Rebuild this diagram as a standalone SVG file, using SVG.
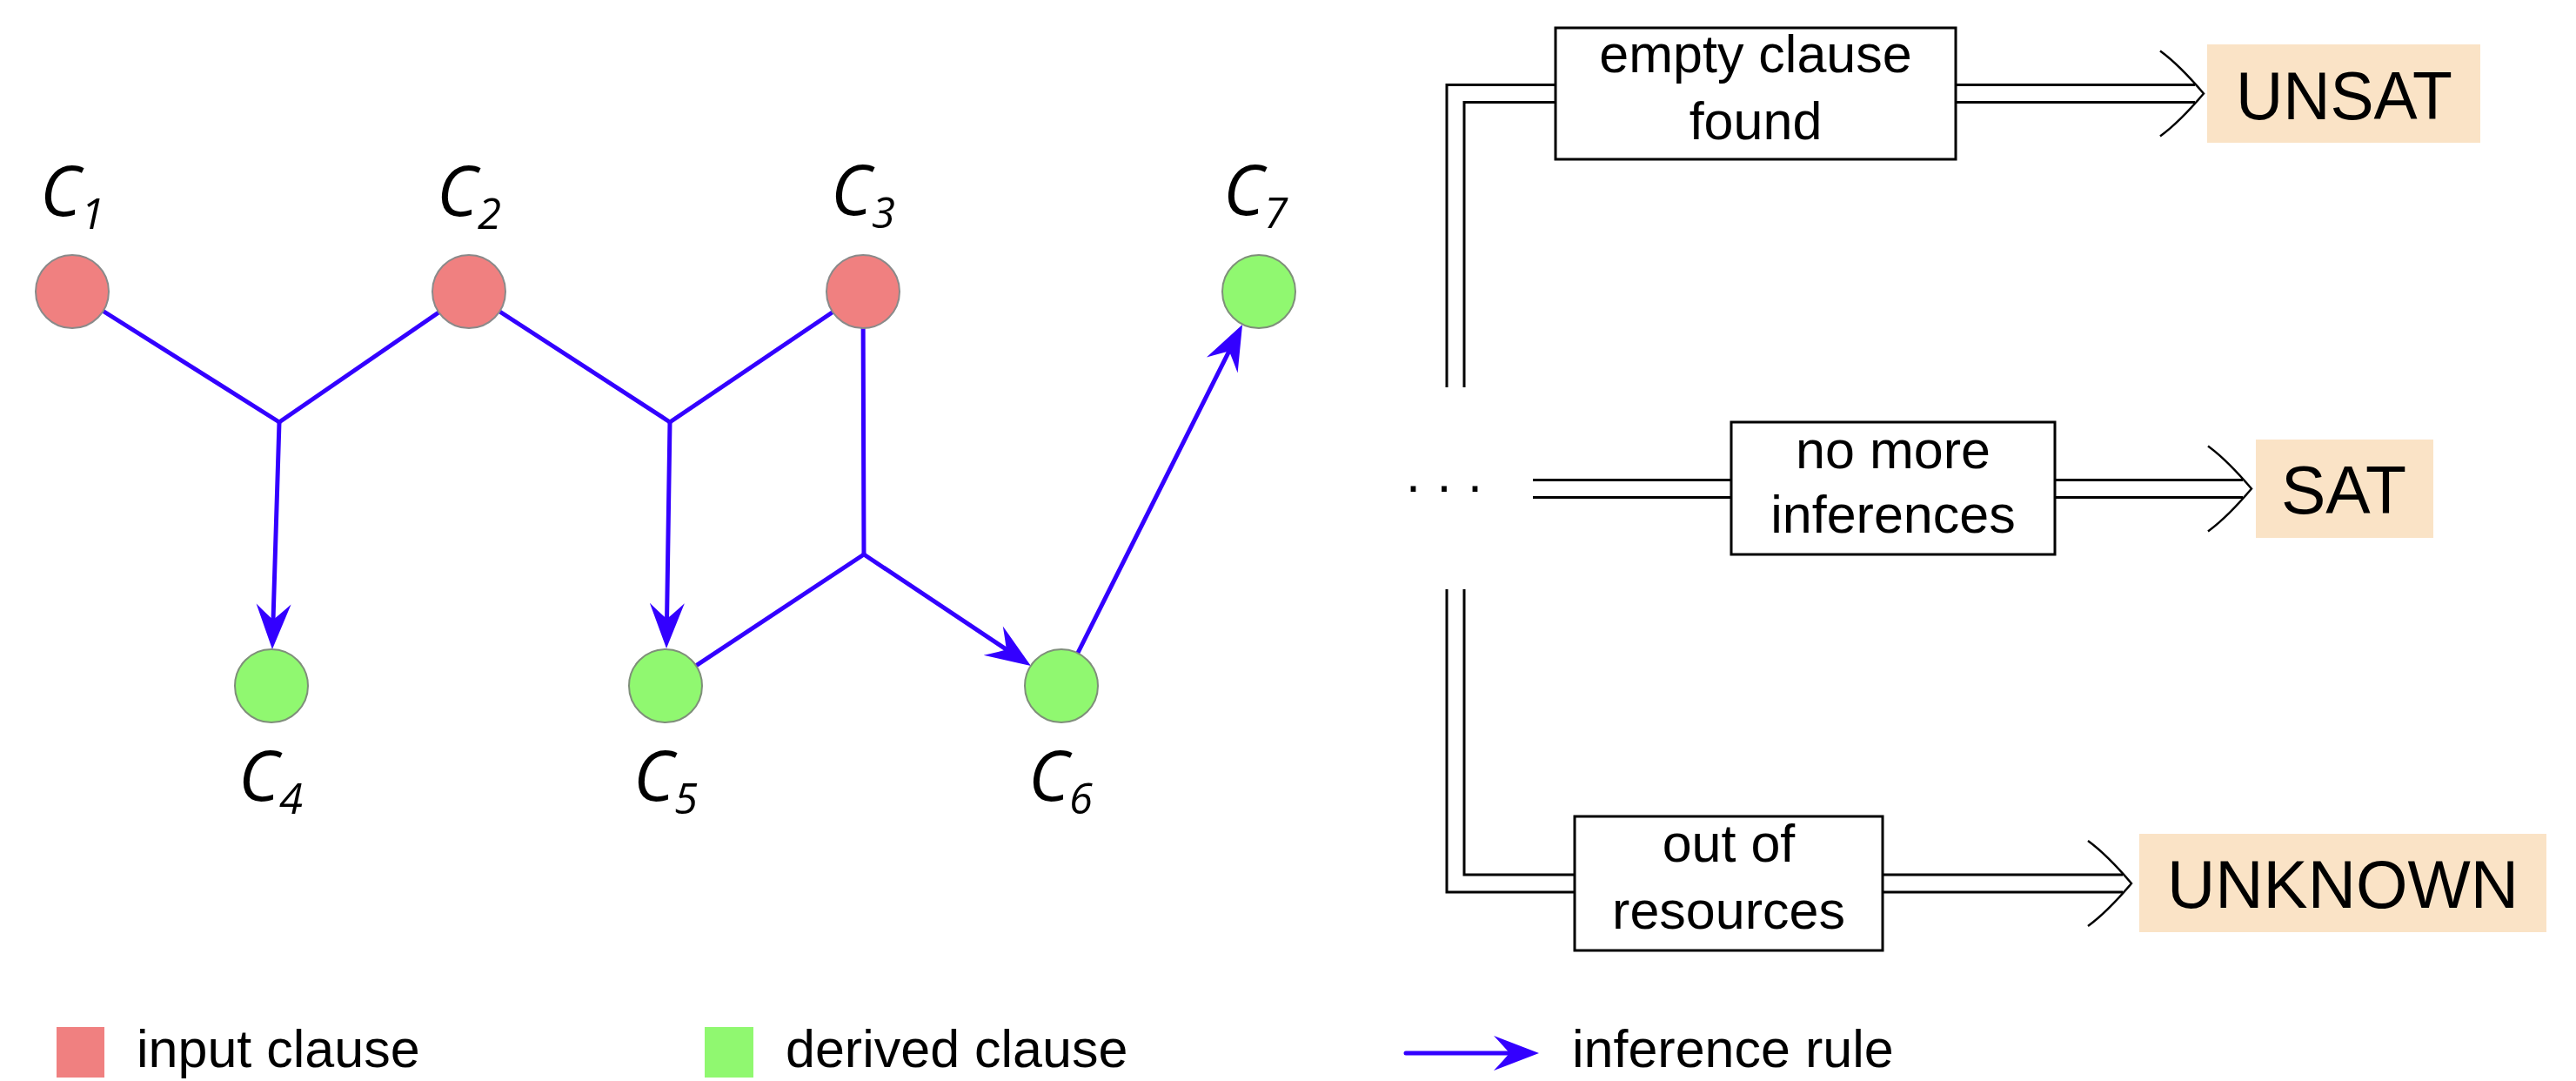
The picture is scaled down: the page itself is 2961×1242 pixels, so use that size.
<svg xmlns="http://www.w3.org/2000/svg" xmlns:xlink="http://www.w3.org/1999/xlink" width="2961" height="1242" viewBox="0 0 2961 1242">
<style>
  .inp { fill: #F08080; stroke: #8a8a8a; stroke-width: 2; }
  .der { fill: #90F870; stroke: #7f8f7a; stroke-width: 2; }
  .lbl { font-family: "Open Sans", "DejaVu Sans", sans-serif; font-style: italic; font-size: 80px; fill: #000; }
  .sub { font-size: 49px; }
  .edge { stroke: #3300FF; stroke-width: 5; fill: none; stroke-linecap: round; }
  .box { fill: #fff; stroke: #000; stroke-width: 3; }
  .btxt { font-family: "Liberation Sans", Arial, sans-serif; font-size: 61px; fill: #000; text-anchor: middle; }
  .res { fill: #FAE3C6; stroke: none; }
  .rtxt { font-family: "Liberation Sans", Arial, sans-serif; font-size: 78px; fill: #000; text-anchor: middle; }
  .dblo { fill: none; stroke: #000; stroke-width: 23; stroke-linejoin: miter; }
  .dbli { fill: none; stroke: #fff; stroke-width: 17; stroke-linejoin: miter; }
  .imp { fill: none; stroke: #000; stroke-width: 2.5; }
  .leg { font-family: "Liberation Sans", Arial, sans-serif; font-size: 61px; fill: #000; }
</style>
<defs>
  <marker id="ah" markerUnits="userSpaceOnUse" orient="auto" overflow="visible" refX="0" refY="0" markerWidth="1" markerHeight="1">
    <path d="M30,0 L-22,-20 Q-8,-5 -4,0 Q-8,5 -22,20 Z" fill="#3300FF"/>
  </marker>
  <path id="imp" class="imp" d="M-50,-49 Q-28,-33 0,0 Q-28,33 -50,49"/>
</defs>
<rect width="2961" height="1242" fill="#fff"/>

<g id="connectors">
  <line class="edge" x1="83" y1="335" x2="321" y2="485"/>
  <line class="edge" x1="539" y1="335" x2="321" y2="485"/>
  <line class="edge" x1="321" y1="485" x2="313.9" y2="716" marker-end="url(#ah)"/>
  <line class="edge" x1="539" y1="335" x2="770" y2="485"/>
  <line class="edge" x1="992" y1="335" x2="770" y2="485"/>
  <line class="edge" x1="770" y1="485" x2="766.5" y2="715" marker-end="url(#ah)"/>
  <line class="edge" x1="992" y1="335" x2="993" y2="637"/>
  <line class="edge" x1="765" y1="788" x2="993" y2="637"/>
  <line class="edge" x1="993" y1="637" x2="1160" y2="748.4" marker-end="url(#ah)"/>
  <line class="edge" x1="1239" y1="750" x2="1414.6" y2="399.8" marker-end="url(#ah)"/>

  <g id="flow-lines">
    <path class="dblo" d="M1673,445 V107.5 H1788"/>
    <path class="dbli" d="M1673,445 V107.5 H1790"/>
    <path class="dblo" d="M2248,107.5 H2523"/>
    <path class="dbli" d="M2246,107.5 H2523"/>
    <use xlink:href="#imp" x="2533" y="107.5"/>

    <path class="dblo" d="M1762,561.5 H1990"/>
    <path class="dbli" d="M1762,561.5 H1992"/>
    <path class="dblo" d="M2362,561.5 H2578"/>
    <path class="dbli" d="M2360,561.5 H2578"/>
    <use xlink:href="#imp" x="2588" y="561.5"/>

    <path class="dblo" d="M1673,677 V1015 H1810"/>
    <path class="dbli" d="M1673,677 V1015 H1812"/>
    <path class="dblo" d="M2164,1015 H2440"/>
    <path class="dbli" d="M2162,1015 H2440"/>
    <use xlink:href="#imp" x="2450" y="1015"/>
  </g>
</g>

<g id="C1"><circle class="inp" cx="83" cy="335" r="42"/><text class="lbl" x="46" y="248">C<tspan class="sub" dy="15">1</tspan></text></g>
<g id="C2"><circle class="inp" cx="539" cy="335" r="42"/><text class="lbl" x="502" y="248">C<tspan class="sub" dy="15">2</tspan></text></g>
<g id="C3"><circle class="inp" cx="992" cy="335" r="42"/><text class="lbl" x="955" y="247">C<tspan class="sub" dy="15">3</tspan></text></g>
<g id="C7"><circle class="der" cx="1447" cy="335" r="42"/><text class="lbl" x="1406" y="247">C<tspan class="sub" dy="15">7</tspan></text></g>
<g id="C4"><circle class="der" cx="312" cy="788" r="42"/><text class="lbl" x="274" y="920">C<tspan class="sub" dy="15">4</tspan></text></g>
<g id="C5"><circle class="der" cx="765" cy="788" r="42"/><text class="lbl" x="728" y="920">C<tspan class="sub" dy="15">5</tspan></text></g>
<g id="C6"><circle class="der" cx="1220" cy="788" r="42"/><text class="lbl" x="1182" y="920">C<tspan class="sub" dy="15">6</tspan></text></g>

<g id="dots"><text class="leg" x="1616" y="565" font-size="70" letter-spacing="18.5">...</text></g>

<g id="box-empty"><rect class="box" x="1788" y="32" width="460" height="151"/>
  <text class="btxt" x="2018" y="83">empty clause</text><text class="btxt" x="2018" y="160">found</text></g>
<g id="box-nomore"><rect class="box" x="1990" y="485" width="372" height="152"/>
  <text class="btxt" x="2176" y="538">no more</text><text class="btxt" x="2176" y="612">inferences</text></g>
<g id="box-out"><rect class="box" x="1810" y="938" width="354" height="154"/>
  <text class="btxt" x="1987" y="990">out of</text><text class="btxt" x="1987" y="1067">resources</text></g>

<g id="UNSAT"><rect class="res" x="2537" y="51" width="314" height="113"/><text class="rtxt" x="2694.5" y="136.5" textLength="249" lengthAdjust="spacingAndGlyphs">UNSAT</text></g>
<g id="SAT"><rect class="res" x="2593" y="505" width="204" height="113"/><text class="rtxt" x="2694" y="589.5" textLength="144" lengthAdjust="spacingAndGlyphs">SAT</text></g>
<g id="UNKNOWN"><rect class="res" x="2459" y="958" width="468" height="113"/><text class="rtxt" x="2693" y="1042.5" textLength="404" lengthAdjust="spacingAndGlyphs">UNKNOWN</text></g>

<g id="legend">
  <rect x="65" y="1180" width="55" height="58" fill="#F08080"/>
  <text class="leg" x="157" y="1226">input clause</text>
  <rect x="810" y="1180" width="56" height="58" fill="#90F870"/>
  <text class="leg" x="903" y="1226">derived clause</text>
  <line class="edge" x1="1616" y1="1210" x2="1739" y2="1210" stroke-width="6" marker-end="url(#ah)"/>
  <text class="leg" x="1807" y="1226">inference rule</text>
</g>
</svg>
